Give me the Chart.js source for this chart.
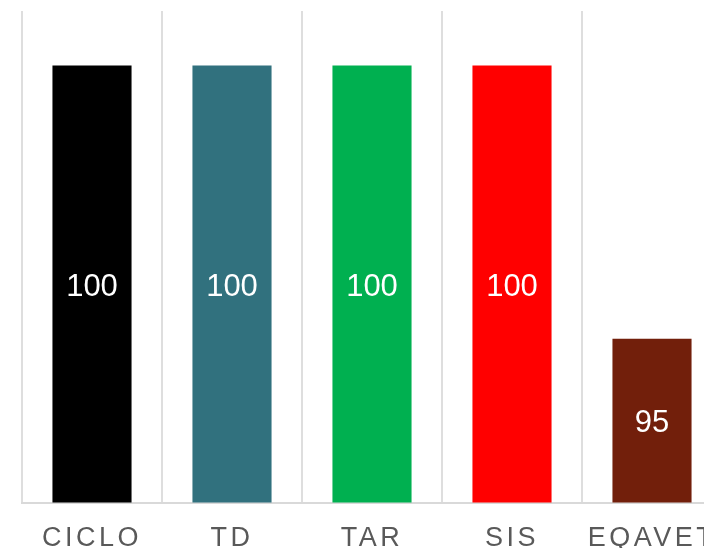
<!DOCTYPE html>
<html>
<head>
<meta charset="utf-8">
<script src="https://cdn.jsdelivr.net/npm/chart.js@4"></script>
<style>
  html, body { margin: 0; padding: 0; background: #fff; overflow: hidden; }
  #wrap { width: 740px; height: 575px; }
</style>
</head>
<body>
<div id="wrap"><canvas id="chart"></canvas></div>
<script>
// data
const categories = ["CICLO", "TD", "TAR", "SIS", "EQAVET"];
const values = [100, 100, 100, 100, 95];
const barColors = ["#000000", "#31717E", "#00B050", "#FF0000", "#721F0B"];

// value labels drawn in the middle of each bar
const barLabels = {
  id: "barLabels",
  beforeDraw(chart) { chart.ctx.letterSpacing = "3.5px"; },
  afterDraw(chart) {
    const ctx = chart.ctx;
    ctx.letterSpacing = "0px";
    const yScale = chart.scales.y;
    const xScale = chart.scales.x;
    ctx.save();
    ctx.font = "31px 'Liberation Sans', Arial, sans-serif";
    ctx.fillStyle = "#ffffff";
    ctx.textAlign = "center";
    ctx.textBaseline = "middle";
    values.forEach((v, i) => {
      const x = xScale.getPixelForValue(i);
      const top = yScale.getPixelForValue(v);
      const base = yScale.getPixelForValue(yScale.min);
      ctx.fillText(String(v), x, (top + base) / 2 + 3);
    });
    ctx.restore();
  }
};

new Chart(document.getElementById("chart"), {
  type: "bar",
  data: {
    labels: categories,
    datasets: [{
      data: values,
      backgroundColor: barColors,
      categoryPercentage: 1,
      barPercentage: 0.565,
    }],
  },
  options: {
    responsive: true,
    maintainAspectRatio: false,
    animation: false,
    layout: { padding: { left: 22, right: 18, top: 11, bottom: 0 } },
    plugins: { legend: { display: false }, tooltip: { enabled: false } },
    scales: {
      x: {
        grid: { offset: true, color: "#dedede", lineWidth: 2, drawTicks: false },
        border: { color: "#d9d9d9", width: 2 },
        ticks: {
          color: "#595959",
          padding: 20,
          font: { family: "'Liberation Sans', Arial, sans-serif", size: 27 },
        },
      },
      y: { display: false, min: 92, max: 101 },
    },
  },
  plugins: [barLabels],
});
</script>
</body>
</html>
